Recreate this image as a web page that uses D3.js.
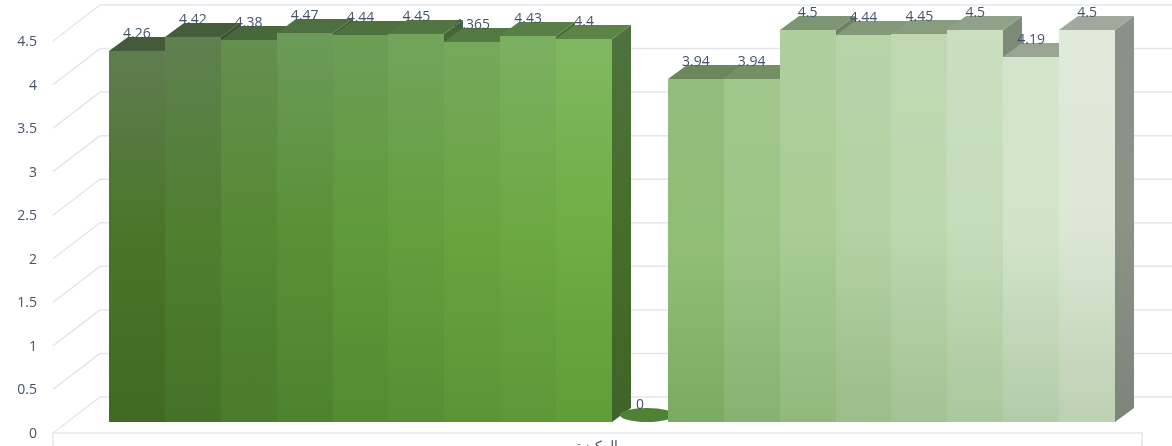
<!DOCTYPE html>
<html>
<head>
<meta charset="utf-8">
<script src="https://cdn.jsdelivr.net/npm/d3@7"></script>
<style>
  html, body { margin: 0; padding: 0; background: #fff; overflow: hidden; }
  svg { display: block; filter: blur(0.35px); }
  text { font-family: "Open Sans", sans-serif; font-size: 14px; fill: #44546a; }
</style>
</head>
<body>
<svg id="chart" width="1172" height="446"></svg>
<script>
const categoryLabel = 'الركيزة';
const barNames = ['a1','a2','a3','a4','a5','a6','a7','a8','a9','gap','b1','b2','b3','b4','b5','b6','b7','b8'];
const barValues = [4.26,4.42,4.38,4.47,4.44,4.45,4.365,4.43,4.4,0,3.94,3.94,4.5,4.44,4.45,4.5,4.19,4.5];
const yTicks = [0,0.5,1,1.5,2,2.5,3,3.5,4,4.5];
const barColors = ['#4a7528','#4f7f2f','#558933','#5a9137','#5f9a3a','#649f3e','#69a440','#6ca843','#6eae44','#4f8235',
  '#8fbe74','#9cc585','#a9cd94','#b3d2a3','#bcd8ae','#c6ddbb','#d0e3c8','#dce7d5'];
const topColors = ['#5f7d50','#5f8050','#64904f','#6b9a5a','#6d9d57','#72a45c','#76a85c','#7bb062','#80b862','#4f8235',
  '#93bd7e','#a2c78c','#aecf9e','#b6d4a8','#bfd8b2','#c9dfbe','#d5e4cc','#dfeadb'];

const svg = d3.select('svg#chart');
const depthX = 19, depthY = -14;       // bar depth
const wallX = 47, wallY = -36;         // floor depth

const x = d3.scaleBand().domain(barNames).range([109, 1115]);
const y = d3.scaleLinear().domain([0, 4.5]).range([422, 30]).interpolate(d3.interpolateRound);
const yWall = d3.scaleLinear().domain([0, 4.5]).range([433, 41]);

function shade(c, k) {
  const r = d3.rgb(c);
  return d3.rgb(r.r * k, r.g * k, r.b * k).formatHex();
}
function bottomColor(c) {
  const r = d3.rgb(c);
  return d3.rgb(r.r * 0.86, r.g * 0.9, r.b * 0.84).formatHex();
}

// gradients
const defs = svg.append('defs');
function gradient(id, stops) {
  const g = defs.append('linearGradient').attr('id', id)
    .attr('x1', 0).attr('y1', 0).attr('x2', 0).attr('y2', 1);
  stops.forEach(s => g.append('stop').attr('offset', s[0]).attr('stop-color', s[1]));
}
barColors.forEach((c, i) => {
  gradient('front' + i, [[0, topColors[i]], [0.5, c], [1, bottomColor(c)]]);
  gradient('side' + i, [[0, shade(topColors[i], 0.62)], [0.5, shade(c, 0.63)], [1, shade(c, 0.57)]]);
});

// walls
const grid = svg.append('g').attr('fill', 'none').attr('stroke', '#e4e6ee').attr('stroke-width', 1.5);
grid.selectAll('.back').data(yTicks).enter().append('line')
  .attr('x1', 53 + wallX).attr('x2', 1172)
  .attr('y1', d => yWall(d) + wallY).attr('y2', d => yWall(d) + wallY);
grid.selectAll('.diag').data(yTicks).enter().append('line')
  .attr('x1', 53).attr('x2', 53 + wallX)
  .attr('y1', d => yWall(d)).attr('y2', d => yWall(d) + wallY);
grid.append('path').attr('d', 'M53,446V' + yWall(0) + 'H1142V446');

// y axis
const yAxis = d3.axisLeft(yWall).tickValues(yTicks).tickSize(0).tickPadding(16).tickFormat(d => d);
const axisG = svg.append('g').attr('transform', 'translate(53,0)').call(yAxis);
axisG.select('.domain').remove();
axisG.selectAll('text').attr('font-family', null).attr('font-size', null).attr('fill', null);

// category label, cut by the bottom edge as in the source
svg.append('text').attr('x', 597).attr('y', 451).attr('text-anchor', 'middle')
  .attr('direction', 'rtl').style('font-family', '"Noto Sans", sans-serif').text(categoryLabel);

// bars, painted left to right so each covers its neighbour
const w = x.bandwidth();
const bars = svg.selectAll('.bar').data(barValues).enter().append('g').attr('class', 'bar');

bars.filter(d => d === 0).append('ellipse')
  .attr('cx', (d, i) => x('gap') + w / 2 + 7)
  .attr('cy', d => y(d) - 7)
  .attr('rx', 27).attr('ry', 7)
  .attr('fill', '#4f8235');

bars.each(function (d, i) {
  if (d === 0) return;
  const g = d3.select(this);
  const x0 = Math.round(x(barNames[i])), x1 = Math.round(x(barNames[i]) + w), yt = y(d), yb = y(0);
  g.append('path').attr('fill', `url(#side${i})`)
    .attr('d', `M${x1},${yt}L${x1 + depthX},${yt + depthY}V${yb + depthY}L${x1},${yb}Z`);
  g.append('path').attr('fill', shade(topColors[i], 0.72))
    .attr('d', `M${x0},${yt}L${x0 + depthX},${yt + depthY}H${x1 + depthX}L${x1},${yt}Z`);
  g.append('rect').attr('x', x0).attr('y', yt).attr('width', x1 - x0).attr('height', yb - yt)
    .attr('fill', `url(#front${i})`);
});

// value labels on top of everything
svg.selectAll('.value').data(barValues).enter().append('text')
  .attr('class', 'value')
  .attr('text-anchor', 'middle')
  .attr('x', (d, i) => x(barNames[i]) + w / 2)
  .attr('y', d => y(d) - 13)
  .text(d => d);
</script>
</body>
</html>
